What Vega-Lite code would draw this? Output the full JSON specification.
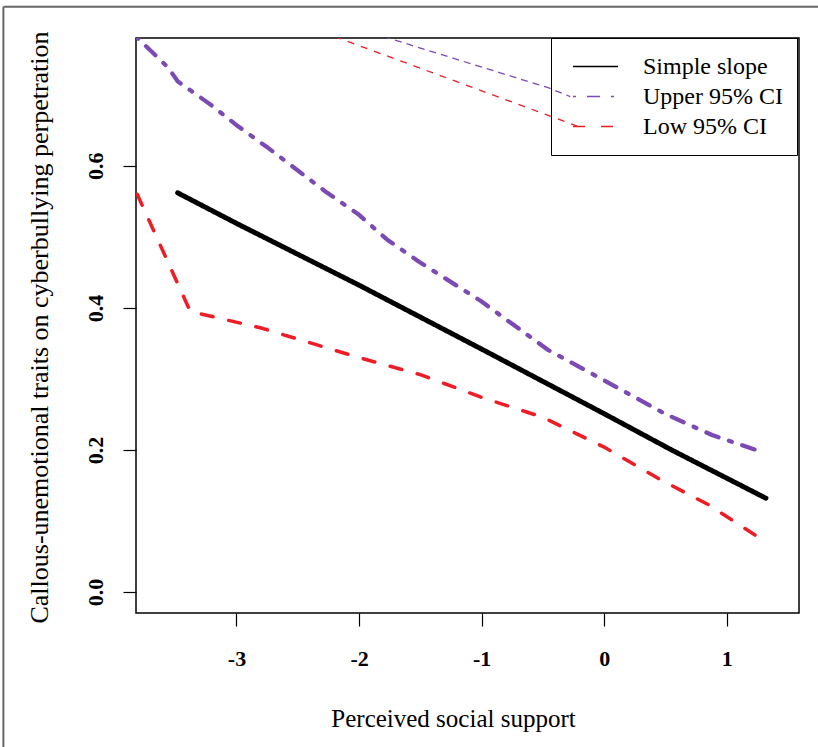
{
  "$schema": "https://vega.github.io/schema/vega-lite/v6.json",
  "width": 663,
  "height": 575,
  "autosize": {"type": "none"},
  "padding": {"left": 136, "top": 38, "right": 19, "bottom": 134},
  "background": "white",
  "config": {
    "view": {"stroke": "black", "strokeWidth": 1.5},
    "font": "Times New Roman, Liberation Serif, serif",
    "axis": {"labelFont": "Times New Roman, Liberation Serif, serif", "titleFont": "Times New Roman, Liberation Serif, serif"},
    "legend": {"labelFont": "Times New Roman, Liberation Serif, serif"}
  },
  "datasets": {
    "curves": [
      {"series": "Simple slope", "x": -3.48, "y": 0.562},
      {"series": "Simple slope", "x": -3.0, "y": 0.519},
      {"series": "Simple slope", "x": -2.0, "y": 0.432},
      {"series": "Simple slope", "x": -1.0, "y": 0.342},
      {"series": "Simple slope", "x": 0.0, "y": 0.251},
      {"series": "Simple slope", "x": 0.55, "y": 0.200},
      {"series": "Simple slope", "x": 1.32, "y": 0.132},
      {"series": "Upper 95% CI", "x": -3.82, "y": 0.782},
      {"series": "Upper 95% CI", "x": -3.556, "y": 0.738},
      {"series": "Upper 95% CI", "x": -3.48, "y": 0.719},
      {"series": "Upper 95% CI", "x": -3.21, "y": 0.686},
      {"series": "Upper 95% CI", "x": -2.99, "y": 0.656},
      {"series": "Upper 95% CI", "x": -2.74, "y": 0.625},
      {"series": "Upper 95% CI", "x": -2.26, "y": 0.562},
      {"series": "Upper 95% CI", "x": -2.0, "y": 0.531},
      {"series": "Upper 95% CI", "x": -1.77, "y": 0.496},
      {"series": "Upper 95% CI", "x": -1.52, "y": 0.466},
      {"series": "Upper 95% CI", "x": -1.0, "y": 0.409},
      {"series": "Upper 95% CI", "x": -0.46, "y": 0.341},
      {"series": "Upper 95% CI", "x": 0.0, "y": 0.298},
      {"series": "Upper 95% CI", "x": 0.495, "y": 0.251},
      {"series": "Upper 95% CI", "x": 0.88, "y": 0.221},
      {"series": "Upper 95% CI", "x": 1.24, "y": 0.200},
      {"series": "Low 95% CI", "x": -3.81, "y": 0.560},
      {"series": "Low 95% CI", "x": -3.377, "y": 0.395},
      {"series": "Low 95% CI", "x": -3.28, "y": 0.391},
      {"series": "Low 95% CI", "x": -2.806, "y": 0.372},
      {"series": "Low 95% CI", "x": -2.0, "y": 0.330},
      {"series": "Low 95% CI", "x": -1.5, "y": 0.306},
      {"series": "Low 95% CI", "x": -1.0, "y": 0.274},
      {"series": "Low 95% CI", "x": -0.5, "y": 0.246},
      {"series": "Low 95% CI", "x": -0.11, "y": 0.213},
      {"series": "Low 95% CI", "x": 0.0, "y": 0.204},
      {"series": "Low 95% CI", "x": 0.46, "y": 0.158},
      {"series": "Low 95% CI", "x": 0.85, "y": 0.123},
      {"series": "Low 95% CI", "x": 1.25, "y": 0.078}
    ],
    "thin": [
      {"series": "Upper 95% CI", "x": -1.80, "y": 0.782},
      {"series": "Upper 95% CI", "x": -0.457, "y": 0.710},
      {"series": "Upper 95% CI", "x": -0.277, "y": 0.6976},
      {"series": "Low 95% CI", "x": -2.20, "y": 0.782},
      {"series": "Low 95% CI", "x": -0.44, "y": 0.670},
      {"series": "Low 95% CI", "x": -0.22, "y": 0.656}
    ]
  },
  "layer": [
    {
      "data": {"name": "thin"},
      "mark": {"type": "line", "strokeWidth": 1.3, "clip": true},
      "encoding": {
        "x": {"field": "x", "type": "quantitative", "scale": {"domain": [-3.82, 1.59], "nice": false, "zero": false}},
        "y": {"field": "y", "type": "quantitative", "scale": {"domain": [-0.0296, 0.78], "nice": false, "zero": false}},
        "detail": {"field": "series"},
        "color": {"field": "series", "type": "nominal", "scale": {"domain": ["Upper 95% CI", "Low 95% CI"], "range": ["#7b4ab4", "#ee1c25"]}, "legend": null},
        "strokeDash": {"field": "series", "type": "nominal", "scale": {"domain": ["Upper 95% CI", "Low 95% CI"], "range": [[7, 5], [7, 7]]}, "legend": null}
      }
    },
    {
      "data": {"name": "curves"},
      "mark": {"type": "line", "strokeCap": "round", "strokeJoin": "round", "clip": true},
      "encoding": {
        "x": {"field": "x", "type": "quantitative", "scale": {"domain": [-3.82, 1.59], "nice": false, "zero": false},
          "axis": {"values": [-3, -2, -1, 0, 1], "labelExpr": "'' + datum.value", "title": "Perceived social support", "domain": false, "grid": false,
            "tickSize": 13, "tickColor": "black", "tickWidth": 1.2,
            "labelFontWeight": "bold", "labelFontSize": 22, "labelColor": "black",
            "labelPadding": 22, "labelBaseline": "top",
            "titleFontWeight": "normal", "titleFontSize": 25, "titleColor": "black",
            "titleX": 317, "titleY": 113, "titleBaseline": "alphabetic", "titleAlign": "center"}},
        "y": {"field": "y", "type": "quantitative", "scale": {"domain": [-0.0296, 0.78], "nice": false, "zero": false},
          "axis": {"values": [0, 0.2, 0.4, 0.6], "format": ".1f", "title": "Callous-unemotional traits on cyberbullying perpetration", "domain": false, "grid": false,
            "tickSize": 13, "tickColor": "black", "tickWidth": 1.2,
            "labelFontWeight": "bold", "labelFontSize": 22, "labelColor": "black",
            "labelAngle": -90, "labelAlign": "center", "labelBaseline": "alphabetic", "labelPadding": 21,
            "titleFontWeight": "normal", "titleFontSize": 26, "titleColor": "black",
            "titleAngle": -90, "titleX": -89, "titleY": 289, "titleBaseline": "alphabetic", "titleAlign": "center"}},
        "detail": {"field": "series"},
        "color": {"field": "series", "type": "nominal", "scale": {"domain": ["Simple slope", "Upper 95% CI", "Low 95% CI"], "range": ["#000000", "#7b4ab4", "#ee1c25"]},
          "legend": {"orient": "none", "legendX": 415, "legendY": 0, "title": null, "strokeColor": "black", "padding": 13.5,
            "symbolType": "stroke", "symbolSize": 2025, "symbolStrokeWidth": 1.5, "symbolOffset": 7.5, "labelOffset": 24,
            "clipHeight": 30, "rowPadding": 0,
            "labelFontSize": 24, "labelColor": "black", "labelBaseline": "middle", "labelLimit": 300,
            "encode": {"symbols": {"update": {"strokeDash": {"signal": "datum.value === 'Upper 95% CI' ? [2, 5, 7, 5] : datum.value === 'Low 95% CI' ? [7, 7] : [1, 0]"}, "strokeWidth": {"value": 1.5}}}}}},
        "strokeDash": {"field": "series", "type": "nominal", "scale": {"domain": ["Simple slope", "Upper 95% CI", "Low 95% CI"], "range": [[1, 0], [3, 11, 13, 11], [12, 16]]}},
        "strokeWidth": {"field": "series", "type": "nominal", "scale": {"domain": ["Simple slope", "Upper 95% CI", "Low 95% CI"], "range": [5, 3.5, 3.5]}, "legend": null}
      }
    },
    {
      "data": {"values": [{}]},
      "mark": {"type": "rule", "color": "#666666", "strokeWidth": 2, "clip": false},
      "encoding": {
        "x": {"datum": -4.902, "type": "quantitative"},
        "y": {"datum": 0.824, "type": "quantitative"},
        "y2": {"datum": -0.3}
      }
    },
    {
      "data": {"values": [{}]},
      "mark": {"type": "rule", "color": "#666666", "strokeWidth": 2, "clip": false},
      "encoding": {
        "x": {"datum": -4.902, "type": "quantitative"},
        "x2": {"datum": 1.8},
        "y": {"datum": 0.824, "type": "quantitative"}
      }
    }
  ],
  "resolve": {"scale": {"color": "independent", "strokeDash": "independent"}}
}
